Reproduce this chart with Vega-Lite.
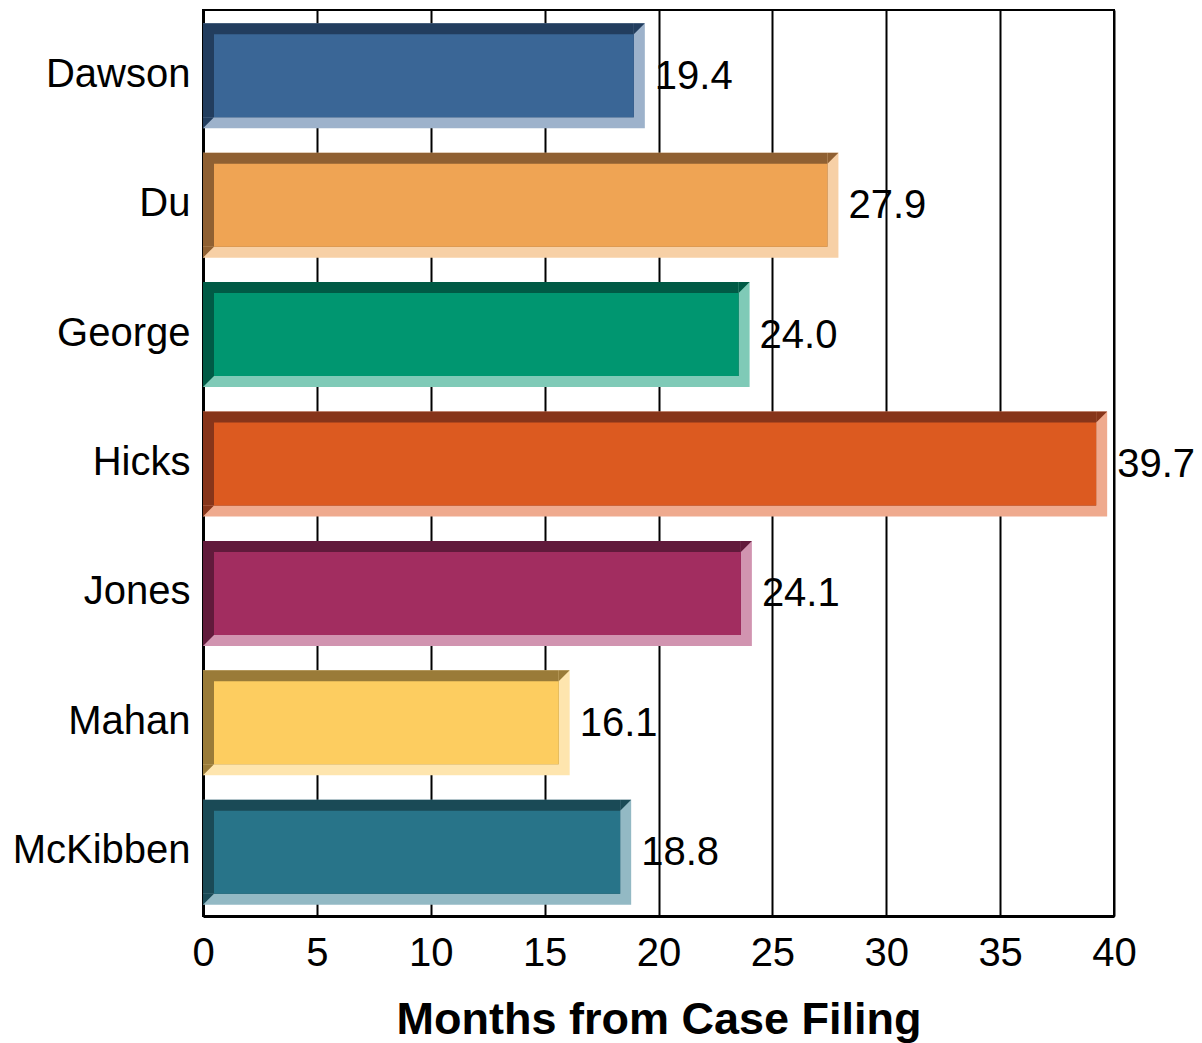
{
  "$schema": "https://vega.github.io/schema/vega-lite/v6.json",
  "width": 911,
  "height": 906,
  "autosize": {"type": "none"},
  "padding": {"left": 203, "top": 10, "right": 88, "bottom": 127},
  "background": "white",
  "config": {
    "view": {"stroke": "black", "strokeWidth": 2},
    "font": "Liberation Sans",
    "axis": {"labelFont": "Liberation Sans", "titleFont": "Liberation Sans", "labelColor": "black", "titleColor": "black"}
  },
  "data": {
    "values": [
      {"judge": "Dawson", "months": 19.4},
      {"judge": "Du", "months": 27.9},
      {"judge": "George", "months": 24.0},
      {"judge": "Hicks", "months": 39.7},
      {"judge": "Jones", "months": 24.1},
      {"judge": "Mahan", "months": 16.1},
      {"judge": "McKibben", "months": 18.8}
    ]
  },
  "encoding": {
    "y": {
      "field": "judge",
      "type": "nominal",
      "sort": null,
      "scale": {"paddingInner": 0, "paddingOuter": 0},
      "axis": {
        "title": null,
        "ticks": false,
        "domain": true,
        "domainColor": "black",
        "domainWidth": 3,
        "labelFontSize": 40,
        "labelPadding": 13,
        "grid": false
      }
    }
  },
  "layer": [
    {
      "mark": {"type": "bar", "height": 105, "yOffset": 1},
      "encoding": {
        "x": {
          "field": "months",
          "type": "quantitative",
          "scale": {"domain": [0, 40], "nice": false},
          "axis": {
            "title": "Months from Case Filing",
            "titleFontSize": 45,
            "titleFontWeight": "bold",
            "titlePadding": 24,
            "values": [0, 5, 10, 15, 20, 25, 30, 35, 40],
            "labelFontSize": 40,
            "labelPadding": 17,
            "labelFlush": false,
            "ticks": false,
            "domain": true,
            "domainColor": "black",
            "domainWidth": 3,
            "grid": true,
            "gridColor": "black",
            "gridWidth": 2,
            "gridOpacity": 1
          }
        },
        "x2": {"datum": 0},
        "color": {
          "field": "judge", "type": "nominal", "legend": null,
          "scale": {"domain": ["Dawson", "Du", "George", "Hicks", "Jones", "Mahan", "McKibben"],
                    "range": ["#9db2cb", "#f7d0a6", "#7fcab7", "#efaa8e", "#d194b0", "#fee5ae", "#93b9c4"]}
        }
      }
    },
    {
      "mark": {"type": "bar", "height": 94, "yOffset": -4.5, "xOffset": -11},
      "encoding": {
        "x": {"field": "months", "type": "quantitative"},
        "x2": {"datum": 0},
        "color": {
          "field": "judge", "type": "nominal", "legend": null,
          "scale": {"domain": ["Dawson", "Du", "George", "Hicks", "Jones", "Mahan", "McKibben"],
                    "range": ["#223d5e", "#8f6032", "#005a45", "#87351a", "#611a3b", "#9a7b38", "#1a4a56"]}
        }
      }
    },
    {
      "mark": {"type": "point", "shape": "M-1,-1L1,-1L-1,1Z", "size": 121, "filled": true, "opacity": 1, "strokeWidth": 0, "xOffset": -5.5, "yOffset": -46},
      "encoding": {
        "x": {"field": "months", "type": "quantitative"},
        "color": {
          "field": "judge", "type": "nominal", "legend": null,
          "scale": {"domain": ["Dawson", "Du", "George", "Hicks", "Jones", "Mahan", "McKibben"],
                    "range": ["#223d5e", "#8f6032", "#005a45", "#87351a", "#611a3b", "#9a7b38", "#1a4a56"]}
        }
      }
    },
    {
      "mark": {"type": "point", "shape": "M-1,-1L1,-1L-1,1Z", "size": 121, "filled": true, "opacity": 1, "strokeWidth": 0, "xOffset": 5.5, "yOffset": 48},
      "encoding": {
        "x": {"datum": 0, "type": "quantitative"},
        "color": {
          "field": "judge", "type": "nominal", "legend": null,
          "scale": {"domain": ["Dawson", "Du", "George", "Hicks", "Jones", "Mahan", "McKibben"],
                    "range": ["#223d5e", "#8f6032", "#005a45", "#87351a", "#611a3b", "#9a7b38", "#1a4a56"]}
        }
      }
    },
    {
      "mark": {"type": "bar", "height": 83, "yOffset": 1, "xOffset": -11, "x2Offset": 11},
      "encoding": {
        "x": {"field": "months", "type": "quantitative"},
        "x2": {"datum": 0},
        "color": {
          "field": "judge", "type": "nominal", "legend": null,
          "scale": {"domain": ["Dawson", "Du", "George", "Hicks", "Jones", "Mahan", "McKibben"],
                    "range": ["#3a6696", "#efa454", "#009670", "#dc5a20", "#a22d60", "#fdcd60", "#287489"]}
        }
      }
    },
    {
      "mark": {"type": "text", "align": "left", "baseline": "middle", "dx": 10, "dy": 2, "fontSize": 40, "color": "black"},
      "encoding": {
        "x": {"field": "months", "type": "quantitative"},
        "text": {"field": "months", "type": "quantitative", "format": ".1f"}
      }
    }
  ],
  "resolve": {"scale": {"color": "independent"}}
}
